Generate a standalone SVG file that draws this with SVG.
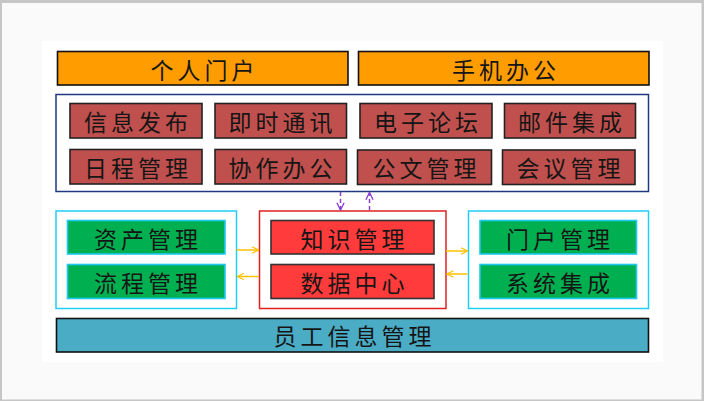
<svg xmlns="http://www.w3.org/2000/svg" width="704" height="401" viewBox="0 0 704 401">
<defs>
<style>
text{font-family:"Noto Sans CJK SC","Noto Sans CJK JP",sans-serif;font-size:23px;fill:#151515;text-anchor:middle;dominant-baseline:central;letter-spacing:4px}
.org{fill:#ff9d00;stroke:#111;stroke-width:1.6}
.rd{fill:#c0504d;stroke:#222;stroke-width:1.6}
.br{fill:#ff3b3b;stroke:#333;stroke-width:1.6}
.gr{fill:#00b050;stroke:#1ec8f0;stroke-width:1.6}
.bl{fill:#4bacc6;stroke:#111;stroke-width:1.6}
.cy{fill:none;stroke:#1ed0f8;stroke-width:1.5}
.nv{fill:none;stroke:#1f3880;stroke-width:1.5}
.rb{fill:none;stroke:#e02020;stroke-width:1.5}
.ya{stroke:#ffc000;stroke-width:1.5;fill:none}
.pa{stroke:#8a3ed0;stroke-width:1.5;fill:none;stroke-dasharray:4 3}
</style>
<marker id="ay" viewBox="0 0 10 10" refX="9" refY="5" markerWidth="8" markerHeight="8" orient="auto" markerUnits="userSpaceOnUse"><path d="M1,1 L9,5 L1,9" fill="none" stroke="#ffc000" stroke-width="1.5"/></marker>
<marker id="ap" viewBox="0 0 10 10" refX="9" refY="5" markerWidth="9" markerHeight="9" orient="auto" markerUnits="userSpaceOnUse"><path d="M1,1 L9,5 L1,9" fill="none" stroke="#8a3ed0" stroke-width="1.5"/></marker>
</defs>
<rect x="0" y="0" width="704" height="401" fill="#c6c6c6"/>
<rect x="2" y="3" width="699.5" height="396.5" fill="#fafafa"/>
<rect x="42" y="41" width="621" height="321" fill="#ffffff"/>

<g id="containers">
<rect class="nv" x="56" y="94.5" width="592.5" height="97"/>
<rect class="cy" x="56" y="211" width="180.5" height="97.5"/>
<rect class="rb" x="259.5" y="211" width="186.5" height="97.5"/>
<rect class="cy" x="468.5" y="211" width="180" height="97.5"/>
</g>

<g id="n-geren"><rect class="org" x="57.5" y="51.5" width="290.5" height="33.5"/><text x="204.5" y="68.5">个人门户</text></g>
<g id="n-shouji"><rect class="org" x="358.5" y="51.5" width="290.5" height="33.5"/><text x="506" y="68.5">手机办公</text></g>

<g id="n-xinxi"><rect class="rd" x="70" y="103.5" width="132" height="34.5"/><text x="138" y="120.5">信息发布</text></g>
<g id="n-jishi"><rect class="rd" x="215" y="103.5" width="131.5" height="34.5"/><text x="282.5" y="120.5">即时通讯</text></g>
<g id="n-dianzi"><rect class="rd" x="360" y="103.5" width="132" height="34.5"/><text x="428" y="120.5">电子论坛</text></g>
<g id="n-youjian"><rect class="rd" x="504.5" y="103.5" width="131" height="34.5"/><text x="572" y="120.5">邮件集成</text></g>
<g id="n-richeng"><rect class="rd" x="70" y="149.5" width="132" height="34.5"/><text x="138" y="166.5">日程管理</text></g>
<g id="n-xiezuo"><rect class="rd" x="215" y="149.5" width="131.5" height="34.5"/><text x="282.5" y="166.5">协作办公</text></g>
<g id="n-gongwen"><rect class="rd" x="357.5" y="150" width="134" height="34.5"/><text x="426.5" y="167">公文管理</text></g>
<g id="n-huiyi"><rect class="rd" x="502.5" y="150" width="132.5" height="34.5"/><text x="570.5" y="167">会议管理</text></g>

<g id="n-zichan"><rect class="gr" x="67.5" y="220.5" width="157.5" height="33.5"/><text x="148" y="237.5">资产管理</text></g>
<g id="n-liucheng"><rect class="gr" x="67.5" y="264.5" width="157.5" height="34"/><text x="148" y="281.5">流程管理</text></g>
<g id="n-zhishi"><rect class="br" x="271" y="220.5" width="163" height="33.5"/><text x="354.5" y="237.5">知识管理</text></g>
<g id="n-shuju"><rect class="br" x="271" y="264.5" width="163" height="34"/><text x="354.5" y="281.5">数据中心</text></g>
<g id="n-menhu"><rect class="gr" x="480" y="220.5" width="156.5" height="33.5"/><text x="560" y="237.5">门户管理</text></g>
<g id="n-xitong"><rect class="gr" x="480" y="264.5" width="156.5" height="34"/><text x="560" y="281.5">系统集成</text></g>

<g id="n-yuangong"><rect class="bl" x="56.5" y="318.5" width="592" height="33.5"/><text x="354.5" y="335">员工信息管理</text></g>

<g id="connectors">
<line class="ya" x1="236.5" y1="250" x2="258.5" y2="250" marker-end="url(#ay)"/>
<line class="ya" x1="258.5" y1="276.5" x2="237.5" y2="276.5" marker-end="url(#ay)"/>
<line class="ya" x1="446" y1="251" x2="467.5" y2="251" marker-end="url(#ay)"/>
<line class="ya" x1="467.5" y1="274" x2="447" y2="274" marker-end="url(#ay)"/>
<line class="pa" x1="340.5" y1="192" x2="340.5" y2="210" marker-end="url(#ap)"/>
<line class="pa" x1="369.5" y1="210" x2="369.5" y2="192.5" marker-end="url(#ap)"/>
</g>
</svg>
